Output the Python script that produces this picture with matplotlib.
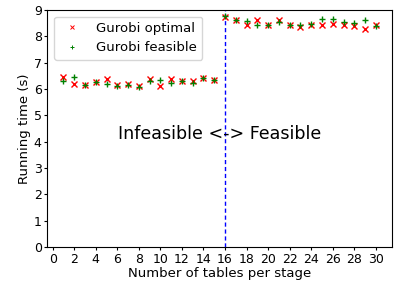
import matplotlib
matplotlib.use("Agg")
import matplotlib.pyplot as plt

tables = list(range(1, 31))
optimal = [6.44, 6.20, 6.15, 6.25, 6.38, 6.15, 6.20, 6.13, 6.38, 6.13,
           6.38, 6.30, 6.31, 6.40, 6.36,
           8.72, 8.60, 8.43, 8.63, 8.43, 8.60, 8.43, 8.35, 8.41, 8.41,
           8.48, 8.41, 8.38, 8.28, 8.43]
feasible = [6.32, 6.47, 6.17, 6.28, 6.19, 6.12, 6.17, 6.08, 6.30, 6.33,
            6.22, 6.30, 6.22, 6.42, 6.34,
            8.78, 8.60, 8.57, 8.43, 8.43, 8.55, 8.43, 8.41, 8.46, 8.65,
            8.65, 8.55, 8.52, 8.60, 8.38]
xticks = list(range(0, 31, 2))

fig, ax = plt.subplots(figsize=(3.94, 2.84), dpi=100)
ax.plot(tables, optimal, marker='x', color='red', linestyle='none', markersize=4.2,
        markeredgewidth=1, label='Gurobi optimal', zorder=3)
ax.plot(tables, feasible, marker='+', color='green', linestyle='none', markersize=5,
        markeredgewidth=1, label='Gurobi feasible', zorder=3)
ax.axvline(16, color='blue', linestyle=(0, (3, 2)), linewidth=1)
ax.text(15.5, 4.3, 'Infeasible <-> Feasible', fontsize=12.6, ha='center', va='center')
ax.set_xlim(-0.5, 31.5)
ax.set_ylim(0, 9)
ax.set_xticks(xticks)
ax.set_xlabel('Number of tables per stage', fontsize=9.5, labelpad=1)
ax.set_ylabel('Running time (s)', fontsize=9.5, labelpad=2)
ax.tick_params(labelsize=9, length=2.5, pad=1.5)
leg = ax.legend(loc='upper left', fontsize=9.5, markerscale=0.7)
for h in leg.get_lines():
    h.set_markeredgewidth(0.7)
fig.subplots_adjust(left=0.12, right=0.995, top=0.965, bottom=0.13)
fig.savefig('out.png')
